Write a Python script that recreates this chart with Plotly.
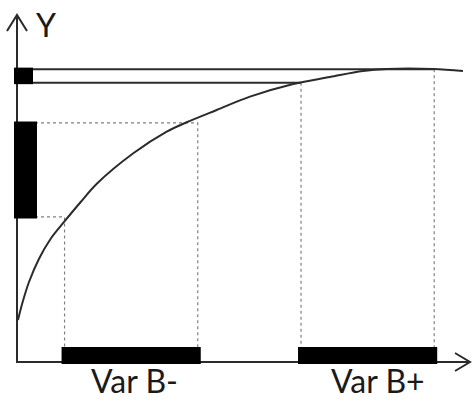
import plotly.graph_objects as go

# response curve (axis units 0-100)
curve_x = [0.22, 1.17, 2.65, 4.86, 7.44, 10.38, 14.06, 17.73, 25.67, 33.05,
           37.46, 44.08, 51.43, 60.99, 69.09, 76.38, 81.68, 91.83, 98.45]
curve_y = [12.10, 16.92, 23.05, 29.77, 35.53, 40.35, 46.11, 51.50, 60.14, 66.37,
           69.08, 72.62, 76.46, 80.12, 82.13, 83.86, 84.44, 84.44, 83.86]

# ranges of variable B and the matching Y ranges
var_names = ["Var B-", "Var B+"]
var_lo = [10.5, 62.7]
var_hi = [39.9, 92.1]
y_lo = [41.8, 80.5]
y_hi = [68.9, 84.4]
label_x = [26.0, 79.7]
label_y = [-5.2, -5.2]

axis_len = 100

# px -> unit factors used for the style constants below
PX_X = 4.53
PX_Y = 3.47

fig = go.Figure()

line_col = "#2b2b2b"
dot_col = "#808080"

# guide lines for each range
for i in range(len(var_names)):
    if i == 0:
        # dotted guides for B-
        fig.add_trace(go.Scatter(
            x=[0, var_hi[i], var_hi[i]], y=[y_hi[i], y_hi[i], 0],
            mode="lines", line=dict(color=dot_col, width=1.2, dash="dot"),
            hoverinfo="skip"))
        fig.add_trace(go.Scatter(
            x=[0, var_lo[i], var_lo[i]], y=[y_lo[i], y_lo[i], 0],
            mode="lines", line=dict(color=dot_col, width=1.2, dash="dot"),
            hoverinfo="skip"))
    else:
        # solid horizontals, dotted verticals for B+
        fig.add_trace(go.Scatter(
            x=[0, var_hi[i]], y=[y_hi[i], y_hi[i]],
            mode="lines", line=dict(color=line_col, width=2), hoverinfo="skip"))
        fig.add_trace(go.Scatter(
            x=[0, var_lo[i]], y=[y_lo[i], y_lo[i]],
            mode="lines", line=dict(color=line_col, width=2), hoverinfo="skip"))
        for xv, yv in [(var_lo[i], y_lo[i]), (var_hi[i], y_hi[i])]:
            fig.add_trace(go.Scatter(
                x=[xv, xv], y=[yv, 0],
                mode="lines", line=dict(color=dot_col, width=1.2, dash="dot"),
                hoverinfo="skip"))

# the curve
fig.add_trace(go.Scatter(
    x=curve_x, y=curve_y, mode="lines",
    line=dict(color=line_col, width=2, shape="spline", smoothing=1.0),
    hoverinfo="skip"))

# axes with open arrow heads
fig.add_trace(go.Scatter(
    x=[0, 0, axis_len], y=[axis_len, 0, 0], mode="lines",
    line=dict(color=line_col, width=2), hoverinfo="skip"))
fig.add_trace(go.Scatter(
    x=[-10 / PX_X, 0, 10 / PX_X], y=[axis_len - 16 / PX_Y, axis_len, axis_len - 16 / PX_Y],
    mode="lines", line=dict(color=line_col, width=2), hoverinfo="skip"))
fig.add_trace(go.Scatter(
    x=[axis_len - 15 / PX_X, axis_len, axis_len - 15 / PX_X], y=[9 / PX_Y, 0, -9 / PX_Y],
    mode="lines", line=dict(color=line_col, width=2), hoverinfo="skip"))

# thick black range bars on both axes
bar_w_x = 17
bar_w_y = [23, 19]
for i in range(len(var_names)):
    yc = 6.5 / PX_Y
    fig.add_trace(go.Scatter(
        x=[var_lo[i] - 3 / PX_X, var_hi[i] + 3 / PX_X], y=[yc, yc],
        mode="lines", line=dict(color="black", width=bar_w_x), hoverinfo="skip"))
    xc = (bar_w_y[i] / 2 - 3) / PX_X
    fig.add_trace(go.Scatter(
        x=[xc, xc], y=[y_lo[i] - 1.5 / PX_Y, y_hi[i] + 1.5 / PX_Y],
        mode="lines", line=dict(color="black", width=bar_w_y[i]), hoverinfo="skip"))

# labels
font = dict(family="Lato", size=32, color="#1a1a1a")
for name, lx, ly in zip(var_names, label_x, label_y):
    fig.add_annotation(x=lx, y=ly, text=name, showarrow=False, borderpad=0,
                       xanchor="center", yanchor="middle", font=font)
fig.add_annotation(x=6.4, y=97.3, text="Y", showarrow=False,
                   xanchor="center", yanchor="middle", font=font)

fig.update_layout(
    width=472, height=401,
    margin=dict(l=0, r=0, t=0, b=0),
    showlegend=False,
    plot_bgcolor="white", paper_bgcolor="white",
    xaxis=dict(range=[-17 / PX_X, 455 / PX_X], visible=False),
    yaxis=dict(range=[-39 / PX_Y, 362 / PX_Y], visible=False),
)

fig.write_html("out.html", config={"displayModeBar": False},
               post_script="document.body.style.margin='0';")
